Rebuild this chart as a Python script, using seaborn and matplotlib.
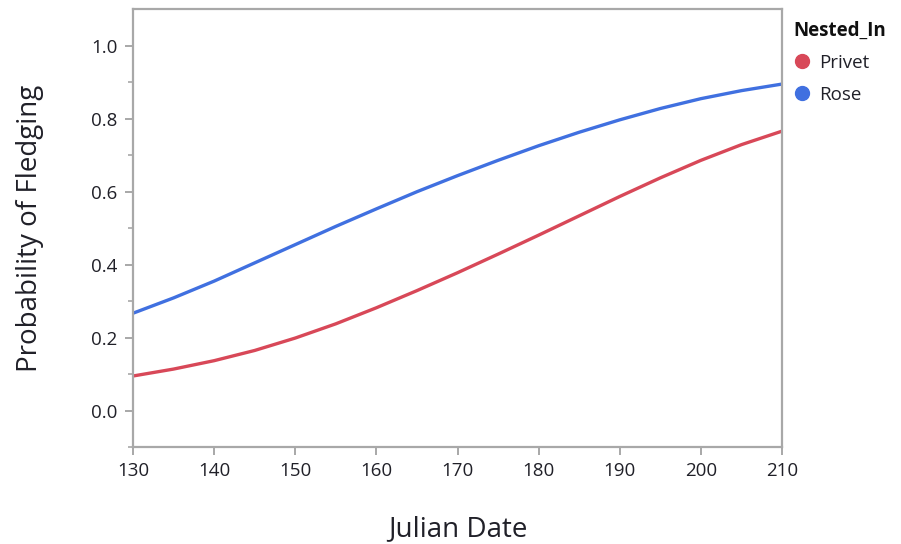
import numpy as np
import pandas as pd
import matplotlib
matplotlib.use("Agg")
import matplotlib.pyplot as plt
from matplotlib.lines import Line2D
import seaborn as sns

julian = [130, 135, 140, 145, 150, 155, 160, 165, 170, 175, 180, 185, 190, 195, 200, 205, 210]
privet = [0.095, 0.114, 0.137, 0.165, 0.199, 0.238, 0.282, 0.329, 0.378, 0.429, 0.481, 0.534, 0.587, 0.638, 0.686, 0.729, 0.766]
rose = [0.267, 0.309, 0.355, 0.405, 0.455, 0.505, 0.553, 0.600, 0.644, 0.686, 0.726, 0.763, 0.797, 0.828, 0.855, 0.877, 0.895]
groups = ["Privet", "Rose"]
x_ticks = [130, 140, 150, 160, 170, 180, 190, 200, 210]
y_ticks = [0.0, 0.2, 0.4, 0.6, 0.8, 1.0]

df = pd.DataFrame({
    "Julian Date": julian * 2,
    "Prob": privet + rose,
    "Nested_In": ["Privet"] * len(julian) + ["Rose"] * len(julian),
})

sns.set_style("white")
plt.rcParams["font.family"] = ["Open Sans", "DejaVu Sans"]

colors = {"Privet": "#D84858", "Rose": "#4070E0"}
txt = "#202028"
fig = plt.figure(figsize=(9.01, 5.44), dpi=100)
ax = fig.add_axes([0.1476, 0.178, 0.868 - 0.1476, 0.983 - 0.178])
sns.lineplot(data=df, x="Julian Date", y="Prob", hue="Nested_In", palette=colors,
             linewidth=2.4, ax=ax, legend=False)

ax.set_xlim(130, 210)
ax.set_ylim(-0.1, 1.1)
ax.set_xticks(x_ticks)
ax.set_xticklabels([str(v) for v in x_ticks])
ax.set_yticks(y_ticks)
ax.set_yticklabels([f"{v:.1f}" for v in y_ticks])
ax.set_yticks([-0.1, 0.1, 0.3, 0.5, 0.7, 0.9], minor=True)

gray = "#A8A8A8"
for s in ax.spines.values():
    s.set_color(gray)
    s.set_linewidth(1.6)
ax.tick_params(axis="both", which="major", direction="out", length=6, width=1.4,
               color=gray, labelsize=13.5, labelcolor=txt, pad=5)
ax.tick_params(axis="y", which="minor", direction="out", length=3.5, width=1.2, color=gray, left=True)
ax.tick_params(axis="x", which="both", bottom=True)
ax.tick_params(axis="y", which="major", left=True)

ax.set_xlabel("Julian Date", fontsize=20, color=txt, labelpad=25)
ax.set_ylabel("Probability of Fledging", fontsize=20, color=txt, labelpad=34)

handles = [Line2D([], [], linestyle="none", marker="o", markersize=10,
                  markerfacecolor=colors[g], markeredgecolor=colors[g]) for g in groups]
leg = fig.legend(handles, groups, title="Nested_In", loc="upper left",
                 bbox_to_anchor=(793 / 901, 1 - 21 / 544), frameon=False, fontsize=13.5,
                 title_fontproperties={"weight": "bold", "size": 13.5},
                 handletextpad=0.4, labelspacing=0.75, borderaxespad=0, borderpad=0,
                 handlelength=1.0)
leg._legend_box.align = "left"
leg._legend_box.sep = 9
for t in leg.get_texts():
    t.set_color(txt)
leg.get_title().set_color("#101010")

fig.savefig("out.png", dpi=100)
